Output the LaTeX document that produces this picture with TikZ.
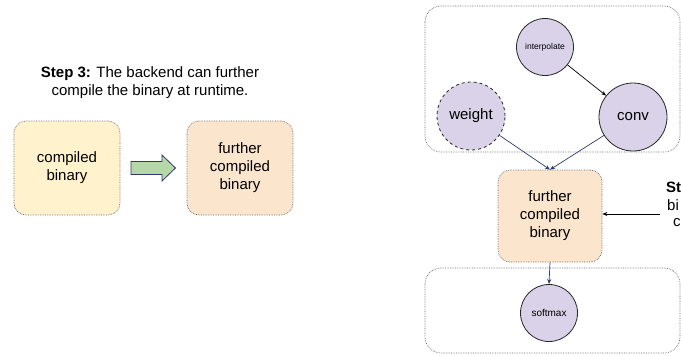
\documentclass[tikz,border=0pt]{standalone}
\usepackage{fontspec}
\setmainfont{Liberation Sans}
\usetikzlibrary{arrows.meta}
\definecolor{yel}{HTML}{FFF2CC}
\definecolor{ora}{HTML}{FCE5CD}
\definecolor{lav}{HTML}{D9D2E9}
\definecolor{navy}{HTML}{2E3A6B}
\definecolor{grn}{HTML}{B6D7A8}
\definecolor{dotc}{HTML}{666666}
\tikzset{
  box/.style={draw=dotc, densely dotted, line width=0.7bp, rounded corners=12bp,
    minimum width=106bp, minimum height=94bp, align=center, inner sep=0pt,
    font=\fontsize{15bp}{18bp}\selectfont},
  grp/.style={draw=dotc, densely dotted, line width=0.7bp, rounded corners=16bp},
  bigop/.style={circle, draw=black!85, fill=lav, line width=0.8bp, minimum size=68bp,
    inner sep=0pt, font=\fontsize{15bp}{18bp}\selectfont},
  smallop/.style={circle, draw=black!85, fill=lav, line width=0.8bp, minimum size=57bp,
    inner sep=0pt, font=\fontsize{8.5bp}{10bp}\selectfont},
  navyarr/.style={draw=navy, line width=0.7bp, -{Stealth[length=5bp,width=4bp]}},
  blackarr/.style={draw=black, line width=0.7bp, -{Stealth[length=5bp,width=4bp]}},
  lbl/.style={inner sep=0pt, font=\fontsize{15bp}{18bp}\selectfont, align=center},
  blockarr/.style={draw=navy, fill=grn, line width=0.8bp, line join=miter},
}
\begin{document}
\begin{tikzpicture}[x=1bp,y=-1bp]
\useasboundingbox (0,0) rectangle (681,355);
\clip (0,0) rectangle (681,355);
% left part
\node[lbl] (title) at (150,83) {\textbf{Step 3:} The backend can further\\compile the binary at runtime.};
\node[box, fill=yel] (cb) at (67,168) {compiled\\binary};
\node[box, fill=ora] (fcbl) at (240,168) {further\\compiled\\binary};
\draw[blockarr] (131,161.5) -- (162,161.5) -- (162,155) -- (175.5,168) -- (162,181)
  -- (162,174.5) -- (131,174.5) -- cycle;
% right part
\draw[grp] (425,6) rectangle (680,152);
\draw[grp] (425,268) rectangle (680,353);
\node[smallop] (interp) at (545,47) {interpolate};
\node[bigop, dashed] (weight) at (471,116) {weight};
\node[bigop] (conv) at (633,117) {conv};
\node[box, fill=ora, minimum width=104bp, minimum height=92bp] (fcb) at (550,216) {further\\compiled\\binary};
\node[smallop, font=\fontsize{10bp}{12bp}\selectfont] (softmax) at (549,313) {softmax};
\draw[blackarr] (interp) -- (conv);
\draw[navyarr] (weight) -- (fcb.north);
\draw[navyarr] (conv) -- (fcb.north);
\draw[navyarr] (fcb.south) -- (softmax.north);
\coordinate (src) at (660,214);
\draw[blackarr] (src) -- (fcb.east |- src);
\node[lbl, anchor=west] (t1) at (666,187) {\textbf{St}};
\node[lbl, anchor=west] (t2) at (667,205) {bi};
\node[lbl, anchor=west] (t3) at (673,223) {c};
\end{tikzpicture}
\end{document}
